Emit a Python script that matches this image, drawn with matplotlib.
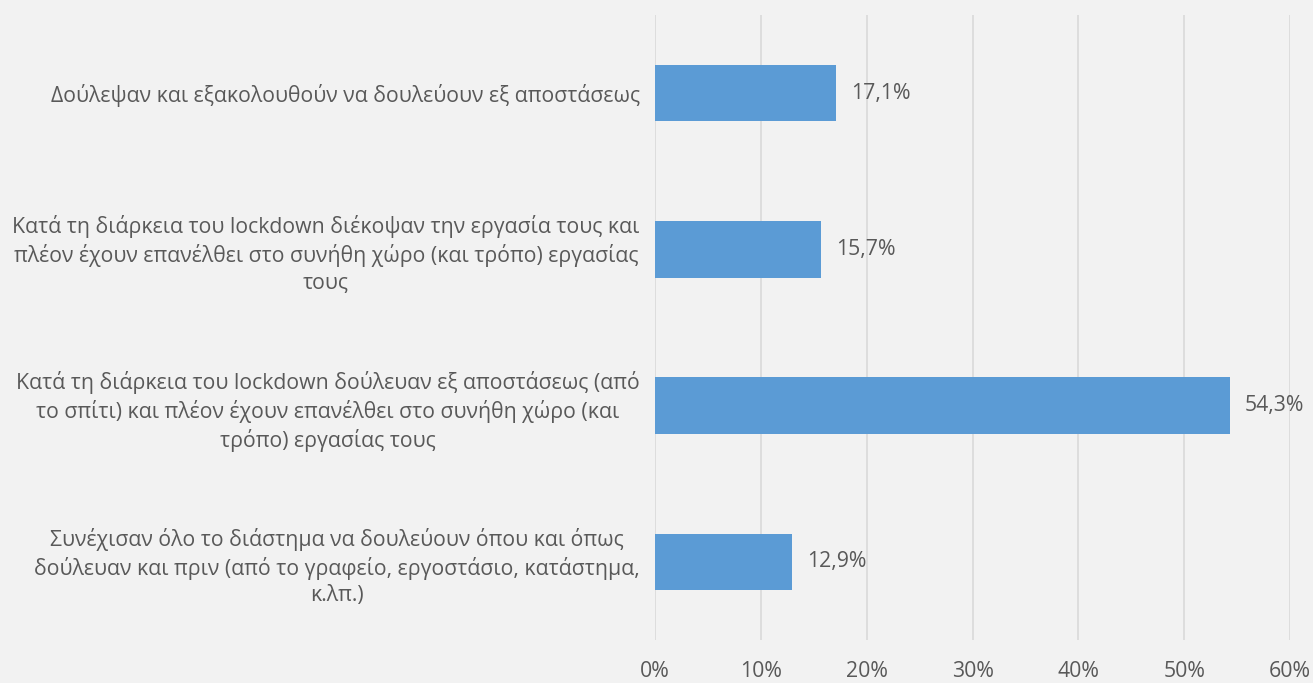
import numpy as np
import matplotlib.pyplot as plt
from matplotlib.ticker import FuncFormatter

plt.rcParams['font.family'] = ['Open Sans', 'DejaVu Sans']

categories = [
    "Δούλεψαν και εξακολουθούν να δουλεύουν εξ αποστάσεως",
    "Κατά τη διάρκεια του lockdown διέκοψαν την εργασία τους και\nπλέον έχουν επανέλθει στο συνήθη χώρο (και τρόπο) εργασίας\nτους",
    "Κατά τη διάρκεια του lockdown δούλευαν εξ αποστάσεως (από\nτο σπίτι) και πλέον έχουν επανέλθει στο συνήθη χώρο (και\nτρόπο) εργασίας τους",
    "Συνέχισαν όλο το διάστημα να δουλεύουν όπου και όπως\nδούλευαν και πριν (από το γραφείο, εργοστάσιο, κατάστημα,\nκ.λπ.)",
]
values = [17.1, 15.7, 54.3, 12.9]
xticks = [0, 10, 20, 30, 40, 50, 60]

bg = "#f2f2f2"
txt = "#595959"
fs = 15.3

fig = plt.figure(figsize=(13.13, 6.83), dpi=100, facecolor=bg)
ax = fig.add_axes([0.4989, 0.063, 0.4836, 0.915], facecolor=bg)

y = np.arange(len(categories))
ax.barh(y, values, height=0.36, color="#5b9bd5", zorder=3)
ax.set_ylim(len(categories) - 0.5, -0.5)
ax.set_xlim(0, 60)
ax.set_xticks(xticks)
ax.xaxis.set_major_formatter(FuncFormatter(lambda v, p: f"{v:.0f}%"))
ax.grid(axis="x", color="#d9d9d9", linewidth=1.2, zorder=0)
ax.tick_params(axis="x", length=0, pad=15, labelsize=fs, labelcolor=txt)
ax.tick_params(axis="y", length=0, pad=11, labelsize=fs, labelcolor=txt)
ax.set_yticks(y)
ax.set_yticklabels(categories)
for lbl in ax.get_yticklabels():
    lbl.set_multialignment("center")
    lbl.set_linespacing(1.33)
for s in ax.spines.values():
    s.set_visible(False)

for yi, v in zip(y, values):
    ax.annotate(f"{v:.1f}%".replace(".", ","), (v, yi), xytext=(11, 0),
                textcoords="offset points", va="center", ha="left",
                fontsize=fs, color=txt)

fig.savefig("out.png", dpi=100, facecolor=bg)
